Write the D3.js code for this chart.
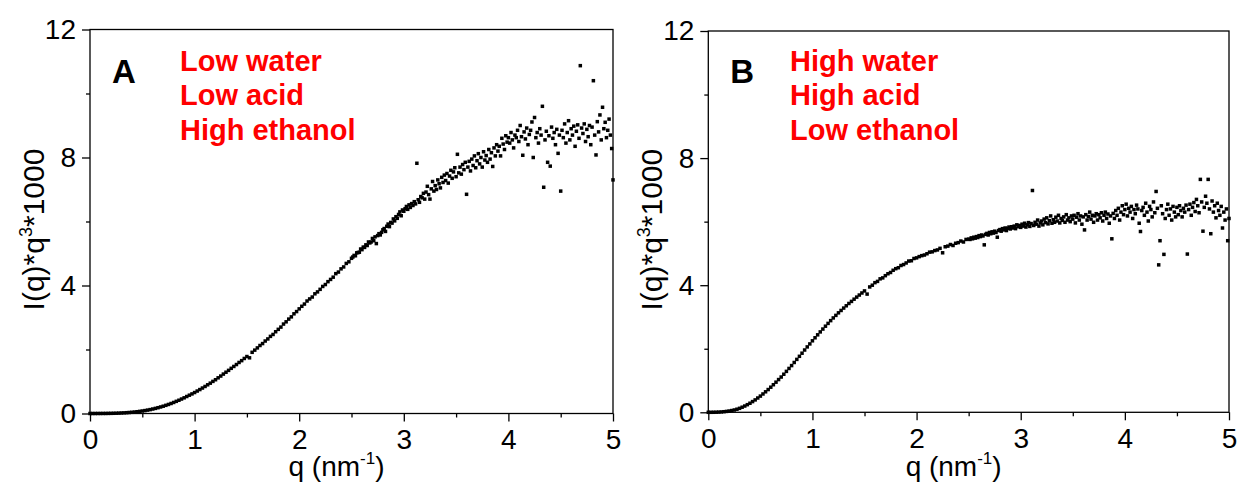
<!DOCTYPE html>
<meta charset="utf-8">
<html>
<head>
<script src="https://cdn.jsdelivr.net/npm/d3@7"></script>
<style>
  body { margin: 0; background: #fff; }
  text { font-family: "Liberation Sans", Arial, sans-serif; }
</style>
</head>
<body>
<div id="chart"></div>
<script>
// q values (nm^-1), shared by both samples
var qGrid = [
  0,0.025,0.05,0.075,0.1,0.125,0.15,0.175,
  0.2,0.225,0.25,0.275,0.3,0.325,0.35,0.375,
  0.4,0.425,0.45,0.475,0.5,0.525,0.55,0.575,
  0.6,0.625,0.65,0.675,0.7,0.725,0.75,0.775,
  0.8,0.825,0.85,0.875,0.9,0.925,0.95,0.975,
  1,1.025,1.05,1.075,1.1,1.125,1.15,1.175,
  1.2,1.225,1.25,1.275,1.3,1.325,1.35,1.375,
  1.4,1.425,1.45,1.475,1.5,1.525,1.55,1.575,
  1.6,1.625,1.65,1.675,1.7,1.725,1.75,1.775,
  1.8,1.825,1.85,1.875,1.9,1.925,1.95,1.975,
  2,2.025,2.05,2.075,2.1,2.125,2.15,2.175,
  2.2,2.225,2.25,2.275,2.3,2.325,2.35,2.375,
  2.4,2.425,2.45,2.475,
  2.5,2.5125,2.525,2.5375,2.55,2.5625,2.575,2.5875,
  2.6,2.6125,2.625,2.6375,2.65,2.6625,2.675,2.6875,
  2.7,2.7125,2.725,2.7375,2.75,2.7625,2.775,2.7875,
  2.8,2.8125,2.825,2.8375,2.85,2.8625,2.875,2.8875,
  2.9,2.9125,2.925,2.9375,2.95,2.9625,2.975,2.9875,
  3,3.0125,3.025,3.0375,3.05,3.0625,3.075,3.0875,
  3.1,3.1125,3.125,3.1375,3.15,3.1625,3.175,3.1875,
  3.2,3.2125,3.225,3.2375,3.25,3.2625,3.275,3.2875,
  3.3,3.3125,3.325,3.3375,3.35,3.3625,3.375,3.3875,
  3.4,3.4125,3.425,3.4375,3.45,3.4625,3.475,3.4875,
  3.5,3.5125,3.525,3.5375,3.55,3.5625,3.575,3.5875,
  3.6,3.6125,3.625,3.6375,3.65,3.6625,3.675,3.6875,
  3.7,3.7125,3.725,3.7375,3.75,3.7625,3.775,3.7875,
  3.8,3.8125,3.825,3.8375,3.85,3.8625,3.875,3.8875,
  3.9,3.9125,3.925,3.9375,3.95,3.9625,3.975,3.9875,
  4,4.0125,4.025,4.0375,4.05,4.0625,4.075,4.0875,
  4.1,4.1125,4.125,4.1375,4.15,4.1625,4.175,4.1875,
  4.2,4.2125,4.225,4.2375,4.25,4.2625,4.275,4.2875,
  4.3,4.3125,4.325,4.3375,4.35,4.3625,4.375,4.3875,
  4.4,4.4125,4.425,4.4375,4.45,4.4625,4.475,4.4875,
  4.5,4.5125,4.525,4.5375,4.55,4.5625,4.575,4.5875,
  4.6,4.6125,4.625,4.6375,4.65,4.6625,4.675,4.6875,
  4.7,4.7125,4.725,4.7375,4.75,4.7625,4.775,4.7875,
  4.8,4.8125,4.825,4.8375,4.85,4.8625,4.875,4.8875,
  4.9,4.9125,4.925,4.9375,4.95,4.9625,4.975,4.9875,
  5
];

// I(q)*q^3*1000, sample A
var intensityA = [
  0,0,0,0.001,0.001,0.002,0.002,0.004,
  0.005,0.007,0.009,0.012,0.016,0.020,0.025,0.031,
  0.038,0.046,0.055,0.066,0.078,0.091,0.106,0.122,
  0.140,0.160,0.181,0.204,0.228,0.255,0.283,0.313,
  0.345,0.380,0.414,0.452,0.490,0.531,0.572,0.612,
  0.655,0.702,0.748,0.796,0.845,0.897,0.948,1.003,
  1.055,1.115,1.170,1.232,1.290,1.348,1.412,1.470,
  1.530,1.595,1.652,1.720,1.780,1.740,1.912,1.980,
  2.050,2.125,2.185,2.265,2.330,2.410,2.470,2.555,
  2.630,2.700,2.795,2.865,2.950,3.020,3.115,3.185,
  3.270,3.350,3.420,3.515,3.580,3.640,3.740,3.800,
  3.880,3.970,4.030,4.120,4.190,4.260,4.370,4.420,
  4.520,4.580,4.690,4.740,
  4.85,4.89,4.94,4.93,5.02,5.03,5.04,5.14,
  5.12,5.20,5.19,5.27,5.25,5.36,5.33,5.36,
  5.47,5.40,5.52,5.31,5.56,5.62,5.58,5.66,
  5.74,5.78,5.69,5.85,5.92,5.84,5.97,5.95,
  6.08,6.02,6.15,6.10,6.22,6.30,6.18,6.36,
  6.32,6.40,6.47,6.38,6.52,6.44,6.56,6.50,
  6.62,6.55,7.82,6.68,6.60,6.78,6.74,6.88,
  6.70,6.92,7.10,6.84,6.70,7.02,7.25,6.95,
  7.12,7.00,7.30,7.18,7.05,7.38,7.22,7.45,
  7.28,7.50,7.20,7.42,7.60,7.35,7.55,7.68,
  7.40,8.10,7.52,7.70,7.48,7.78,7.62,7.85,
  6.85,7.70,7.88,7.58,7.95,7.75,8.05,7.68,
  7.90,8.12,7.80,8.00,7.70,8.18,7.92,8.06,
  7.85,8.25,7.95,8.15,7.72,8.30,8.05,8.40,
  8.20,8.35,8.05,8.60,8.42,8.25,8.68,8.48,
  8.62,8.45,8.78,8.55,8.30,8.70,8.62,8.85,
  8.50,9.00,8.65,8.07,8.80,8.58,8.92,8.40,
  8.72,8.85,9.11,8.00,9.25,8.62,8.78,8.45,
  8.90,8.70,9.60,7.07,8.55,8.82,7.85,8.68,
  7.73,8.95,8.60,8.78,8.40,8.88,8.13,8.70,
  6.95,8.85,8.62,9.05,8.45,8.78,9.15,8.55,
  8.90,8.70,8.98,8.35,8.82,9.02,8.60,10.87,
  8.92,8.75,9.05,8.50,8.88,8.65,9.00,8.40,
  8.95,10.40,8.70,8.08,9.12,8.80,9.33,8.55,
  9.57,8.90,9.10,8.62,8.85,9.20,8.70,8.28,
  7.30
];

// I(q)*q^3*1000, sample B
var intensityB = [
  0,0,0.001,0.003,0.006,0.011,0.018,0.028,
  0.040,0.055,0.073,0.097,0.125,0.160,0.197,0.240,
  0.285,0.337,0.390,0.450,0.510,0.577,0.645,0.716,
  0.790,0.868,0.948,1.030,1.110,1.198,1.288,1.380,
  1.470,1.568,1.665,1.762,1.860,1.960,2.058,2.152,
  2.250,2.345,2.438,2.530,2.620,2.710,2.798,2.885,
  2.970,3.050,3.130,3.205,3.280,3.352,3.425,3.490,
  3.560,3.625,3.690,3.755,3.820,3.720,3.945,4.000,
  4.080,4.120,4.200,4.230,4.300,4.360,4.400,4.470,
  4.520,4.550,4.620,4.650,4.700,4.760,4.770,4.840,
  4.860,4.900,4.930,4.950,4.990,5.040,5.050,5.090,
  5.110,5.160,5.020,5.210,5.230,5.280,5.250,5.320,
  5.340,5.390,5.360,5.440,
  5.45,5.44,5.49,5.46,5.51,5.48,5.53,5.50,
  5.56,5.53,5.58,5.55,5.27,5.60,5.63,5.58,
  5.66,5.62,5.68,5.64,5.70,5.66,5.51,5.72,
  5.75,5.70,5.78,5.74,5.80,5.72,5.79,5.83,
  5.77,5.84,5.80,5.86,5.78,5.90,5.84,5.88,
  5.82,5.92,5.86,5.95,5.83,5.90,5.97,5.85,
  5.94,6.98,5.88,5.98,5.92,6.05,5.86,5.96,
  6.02,5.90,6.08,5.97,6.12,5.93,6.03,6.18,
  5.95,6.06,5.98,6.14,6.02,6.20,5.96,6.10,
  6.04,6.15,5.98,6.22,6.05,6.12,6.00,6.18,
  6.08,6.20,5.96,6.14,6.25,6.05,6.18,5.92,
  6.15,5.74,6.22,6.05,6.16,6.30,6.08,6.20,
  5.98,6.18,6.25,6.05,6.22,6.12,6.28,6.02,
  6.20,6.30,6.10,6.24,5.95,6.18,5.46,6.26,
  6.10,6.35,6.20,6.42,6.05,6.30,6.50,6.22,
  6.38,6.55,6.18,6.42,6.30,6.48,6.10,6.38,
  6.25,6.52,6.40,5.95,5.69,6.35,6.45,6.20,
  6.58,6.30,6.02,6.48,6.38,6.15,6.62,6.28,
  6.95,6.42,4.64,5.40,6.50,6.25,4.97,6.10,
  6.38,6.55,6.20,6.40,6.05,6.48,6.30,6.15,
  6.45,6.22,6.50,6.35,6.15,6.42,6.30,6.52,
  4.98,6.38,6.55,6.20,6.45,6.60,6.32,6.70,
  6.50,6.28,7.33,6.62,5.70,6.45,6.80,6.58,
  7.33,6.40,5.62,6.65,6.30,6.50,6.12,6.58,
  6.35,6.20,6.48,5.80,6.30,6.05,6.40,5.40,
  6.10
];

var xTicks = [0, 1, 2, 3, 4, 5],
    xMinor = [0.5, 1.5, 2.5, 3.5, 4.5],
    yTicks = [0, 4, 8, 12],
    yMinor = [2, 6, 10];

var notesA = ["Low water", "Low acid", "High ethanol"],
    notesB = ["High water", "High acid", "Low ethanol"];

var svg = d3.select("#chart").append("svg")
    .attr("width", 1240)
    .attr("height", 483);

function drawPanel(box, values, letter, notes) {
  var x = d3.scaleLinear().domain([0, 5]).range([box.left, box.right]),
      y = d3.scaleLinear().domain([0, 12]).range([box.bottom, box.top]);

  var g = svg.append("g");

  // major + minor ticks, outward
  g.append("g")
      .attr("transform", "translate(0," + box.bottom + ")")
      .call(d3.axisBottom(x).tickValues(xTicks).tickSize(8).tickPadding(8).tickFormat(d3.format("d")));
  g.append("g")
      .attr("transform", "translate(0," + box.bottom + ")")
      .call(d3.axisBottom(x).tickValues(xMinor).tickSize(4).tickFormat(""));
  g.append("g")
      .attr("transform", "translate(" + box.left + ",0)")
      .call(d3.axisLeft(y).tickValues(yTicks).tickSize(8).tickPadding(6).tickFormat(d3.format("d")));
  g.append("g")
      .attr("transform", "translate(" + box.left + ",0)")
      .call(d3.axisLeft(y).tickValues(yMinor).tickSize(4).tickFormat(""));

  g.selectAll(".domain").remove();
  g.selectAll(".tick line").style("stroke", "#000").style("stroke-width", "1.3px");
  g.selectAll(".tick text")
      .style("font-family", "'Liberation Sans', Arial, sans-serif")
      .style("font-size", "28px")
      .style("fill", "#000");

  // frame
  g.append("rect")
      .attr("x", box.left)
      .attr("y", box.top)
      .attr("width", box.right - box.left)
      .attr("height", box.bottom - box.top)
      .style("fill", "none")
      .style("stroke", "#000")
      .style("stroke-width", "1.3px");

  // scatter
  g.selectAll(".pt")
      .data(qGrid.map(function(q, i){ return { q: q, v: values[i] }; }))
      .enter().append("rect")
      .attr("class", "pt")
      .attr("x", function(d){ return x(d.q) - 1.75; })
      .attr("y", function(d){ return y(d.v) - 1.75; })
      .attr("width", 3.5)
      .attr("height", 3.5)
      .style("fill", "#000");

  // panel letter
  g.append("text")
      .attr("x", box.left + 22)
      .attr("y", 82.5)
      .text(letter)
      .style("font-size", "33px")
      .style("font-weight", "bold")
      .style("fill", "#000");

  g.selectAll(".note")
      .data(notes)
      .enter().append("text")
      .attr("class", "note")
      .attr("x", box.noteX)
      .attr("y", function(d, i){ return 70.7 + i * 34.4; })
      .text(function(d){ return d; })
      .style("font-size", "29px")
      .style("font-weight", "bold")
      .style("fill", "#ff0000");

  // x title
  var xt = g.append("text")
      .attr("x", (box.left + box.right) / 2 - 15)
      .attr("y", 476)
      .style("text-anchor", "middle")
      .style("font-size", "28px")
      .style("fill", "#000");
  xt.append("tspan").text("q (nm");
  xt.append("tspan").attr("dy", -12).style("font-size", "17px").text("-1");
  xt.append("tspan").attr("dy", 12).text(")");

  // y title
  var cy = (box.top + box.bottom) / 2 + 8;
  var yt = g.append("text")
      .attr("transform", "translate(" + (box.left - 46) + "," + cy + ") rotate(-90)")
      .style("text-anchor", "middle")
      .style("font-size", "30px")
      .style("fill", "#000");
  yt.append("tspan").text("I(q)*q");
  yt.append("tspan").attr("dy", -12).style("font-size", "18px").text("3");
  yt.append("tspan").attr("dy", 12).text("*1000");
}

drawPanel({ left: 90, right: 613, top: 29.5, bottom: 413.5, noteX: 180 }, intensityA, "A", notesA);
drawPanel({ left: 708.3, right: 1229, top: 31, bottom: 412.3, noteX: 790 }, intensityB, "B", notesB);
</script>
</body>
</html>
